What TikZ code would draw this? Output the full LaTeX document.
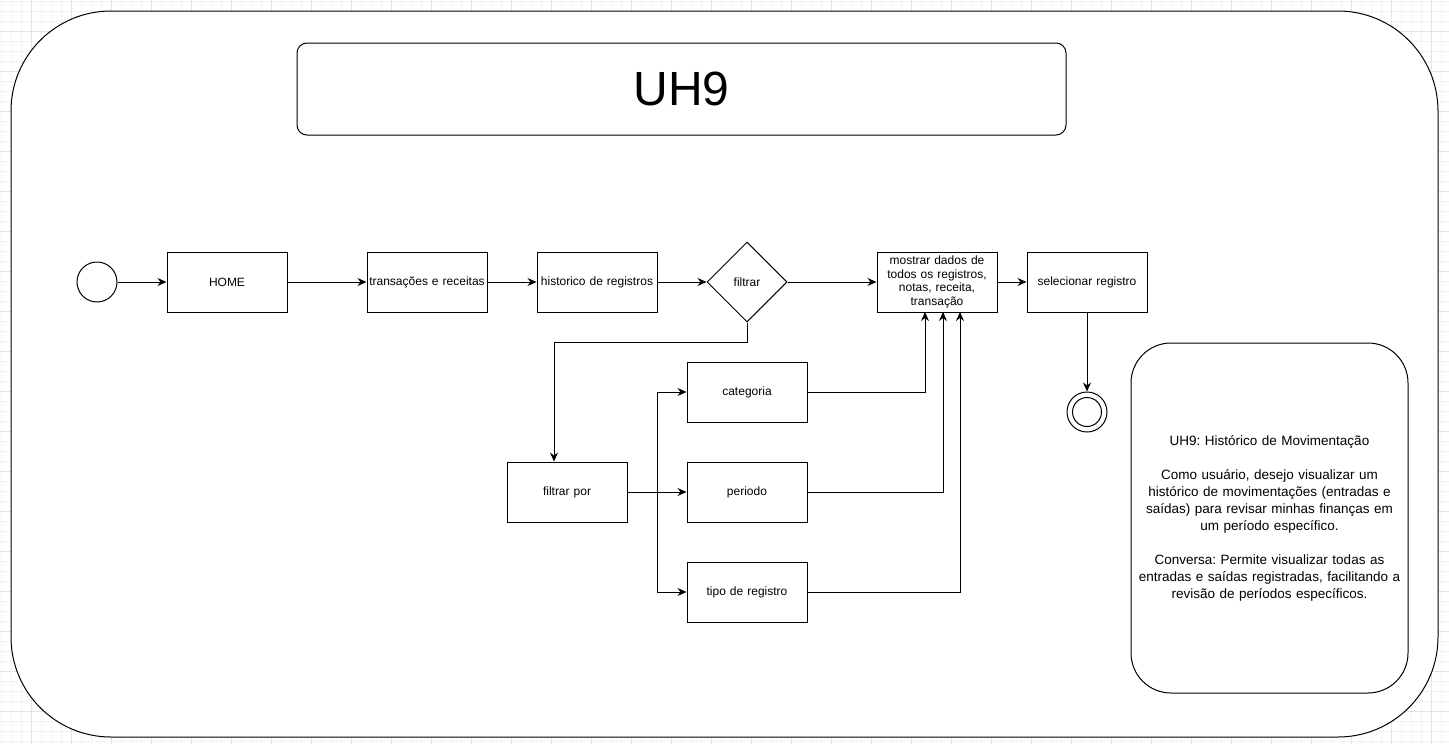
\documentclass[tikz,border=0pt]{standalone}
\usepackage{fontspec}
\setmainfont{Liberation Sans}
\frenchspacing
\usetikzlibrary{arrows.meta,shapes.geometric}
\definecolor{gridminor}{HTML}{F3F3F3}
\definecolor{gridmajor}{HTML}{E4E4E4}
\tikzset{
  box/.style={draw=black, line width=1pt, minimum width=120pt, minimum height=60pt, inner sep=2pt, font=\fontsize{12}{14}\selectfont, align=center, text width=116pt},
  conn/.style={draw=black, line width=1pt, -{Stealth[length=9pt,width=8pt,inset=3pt]}},
  line/.style={draw=black, line width=1pt},
}
\begin{document}
\begin{tikzpicture}[x=1pt,y=-1pt]
\useasboundingbox (0,0) rectangle (1449,744);
\fill[white] (0,0) rectangle (1449,744);
% grid
\foreach \i in {1,11,...,1449} {\draw[gridminor, line width=0.7pt] (\i,0) -- (\i,744);}
\foreach \i in {1,11,...,744} {\draw[gridminor, line width=0.7pt] (0,\i) -- (1449,\i);}
\foreach \i in {31,71,...,1449} {\draw[gridmajor, line width=0.8pt] (\i,0) -- (\i,744);}
\foreach \i in {31,71,...,744} {\draw[gridmajor, line width=0.8pt] (0,\i) -- (1449,\i);}
% outer frame
\draw[fill=white, line width=1pt, rounded corners=100pt] (11,11) rectangle (1438,737);
% title
\node[draw, line width=1pt, rounded corners=10pt, minimum width=769pt, minimum height=92pt, font=\fontsize{48}{56}\selectfont] (title) at (681.5,89) {UH9};
% start
\node[draw, circle, line width=1pt, minimum size=40pt, inner sep=0pt] (start) at (97,282) {};
\node[box] (home) at (227,282) {HOME};
\node[box] (trans) at (427,282) {transações e receitas};
\node[box] (hist) at (597,282) {historico de registros};
\node[draw, diamond, line width=1pt, minimum width=80pt, minimum height=80pt, inner sep=0pt, font=\fontsize{12}{14}\selectfont] (filt) at (747,282) {filtrar};
\node[box, font=\fontsize{12}{13.5}\selectfont] (most) at (937,282) {mostrar dados de\\todos os registros,\\notas, receita,\\transação};
\node[box] (sel) at (1087,282) {selecionar registro};
\node[draw, circle, line width=1pt, minimum size=40pt, inner sep=0pt] (end) at (1087,412) {};
\node[draw, circle, line width=1pt, minimum size=29pt, inner sep=0pt] (endin) at (1087,412) {};
\node[box] (fpor) at (567,492) {filtrar por};
\node[box] (cat) at (747,392) {categoria};
\node[box] (per) at (747,492) {periodo};
\node[box] (tipo) at (747,592) {tipo de registro};
% description
\node[draw, line width=1pt, rounded corners=40pt, minimum width=277pt, minimum height=350pt, align=center, text width=270pt, font=\fontsize{13.5}{17}\selectfont] (desc) at (1269.5,518) {UH9: Histórico de Movimentação\\[17pt]Como usuário, desejo visualizar um\\histórico de movimentações (entradas e\\saídas) para revisar minhas finanças em\\um período específico.\\[17pt]Conversa: Permite visualizar todas as\\entradas e saídas registradas, facilitando a\\revisão de períodos específicos.};
% connectors
\draw[conn] (start) -- (home);
\draw[conn] (home) -- (trans);
\draw[conn] (trans) -- (hist);
\draw[conn] (hist) -- (filt);
\draw[conn] (filt) -- (most);
\draw[conn] (most) -- (sel);
\draw[conn] (sel) -- (end);
\coordinate (f1) at (747,342);
\coordinate (f2) at (554,342);
\draw[conn] (filt.south) -- (f1) -- (f2) -- (f2 |- fpor.north);
\coordinate (b) at (657,492);
\draw[conn] (fpor.east) -- (per.west);
\draw[conn] (b) |- (cat.west);
\draw[conn] (b) |- (tipo.west);
\draw[conn] (cat.east) -- (925,392) -- (925,312);
\draw[conn] (per.east) -- (943,492) -- (943,312);
\draw[conn] (tipo.east) -- (960,592) -- (960,312);
\end{tikzpicture}
\end{document}
